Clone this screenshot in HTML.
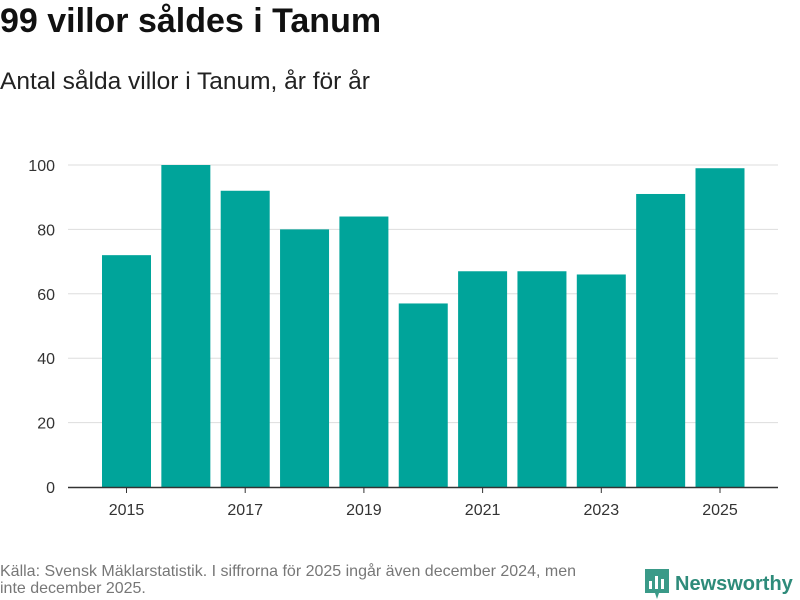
<!DOCTYPE html>
<html><head><meta charset="utf-8"><style>
body{margin:0;width:800px;height:600px;background:#fff;font-family:"Liberation Sans",sans-serif;overflow:hidden;position:relative}
#title{position:absolute;left:0;top:2px;font-size:34px;font-weight:bold;color:#111}
#sub{position:absolute;left:0;top:68px;font-size:24.5px;color:#222}
#src{position:absolute;left:0;top:563px;font-size:16px;color:#777;line-height:17px;width:595px}
#logo{position:absolute;left:645px;top:569px;display:flex;align-items:center}
#logo span{font-size:20px;font-weight:bold;color:#2e8b7a;margin-left:6px}
</style></head><body>
<div id="title">99 villor såldes i Tanum</div>
<div id="sub">Antal sålda villor i Tanum, år för år</div>
<svg id="chart" width="800" height="600" style="position:absolute;left:0;top:0"></svg>
<div id="src">Källa: Svensk Mäklarstatistik. I siffrorna för 2025 ingår även december 2024, men inte december 2025.</div>
<div id="logo">
<svg width="24" height="30" viewBox="0 0 24 30"><path d="M0 0H24V24H14L12 30L10 24H0Z" fill="#3a9a88"/><rect x="4" y="12" width="3" height="8" fill="#fff"/><rect x="10" y="7" width="3" height="13" fill="#fff"/><rect x="16" y="10" width="3" height="10" fill="#fff"/></svg>
<span>Newsworthy</span></div>
<script>
const years=[2015,2016,2017,2018,2019,2020,2021,2022,2023,2024,2025];
const values=[72,100,92,80,84,57,67,67,66,91,99];
const yTicks=[0,20,40,60,80,100];
const xLabels=[2015,2017,2019,2021,2023,2025];
const svg=document.getElementById('chart');
const NS='http://www.w3.org/2000/svg';
const y=v=>487-v*3.22;
const x=i=>126.5+i*59.35;
function mk(t,a){const e=document.createElementNS(NS,t);for(const k in a)e.setAttribute(k,a[k]);svg.appendChild(e);return e;}
yTicks.forEach(v=>{
 if(v>0){const g=mk('line',{x1:68,x2:778,y1:y(v),y2:y(v),stroke:'#ddd','stroke-width':1});
 
 }
 const t=mk('text',{x:55,y:y(v)+6,'text-anchor':'end','font-size':16,fill:'#333','font-family':'Liberation Sans, sans-serif'});
 t.textContent=v;
 
 
});
values.forEach((v,i)=>{
 const r=mk('rect',{x:x(i)-24.5,y:y(v),width:49,height:y(0)-y(v),fill:'#00a49a'});
 
 
});
const ax=mk('line',{x1:68,x2:778,y1:487.5,y2:487.5,stroke:'#333','stroke-width':1.5});


xLabels.forEach(yr=>{
 const i=years.indexOf(yr);
 const tk=mk('line',{x1:x(i),x2:x(i),y1:487,y2:493,stroke:'#333'});
 
 
 const t=mk('text',{x:x(i),y:515,'text-anchor':'middle','font-size':16,fill:'#333','font-family':'Liberation Sans, sans-serif'});
 t.textContent=yr;
 
 
});
</script>
</body></html>
